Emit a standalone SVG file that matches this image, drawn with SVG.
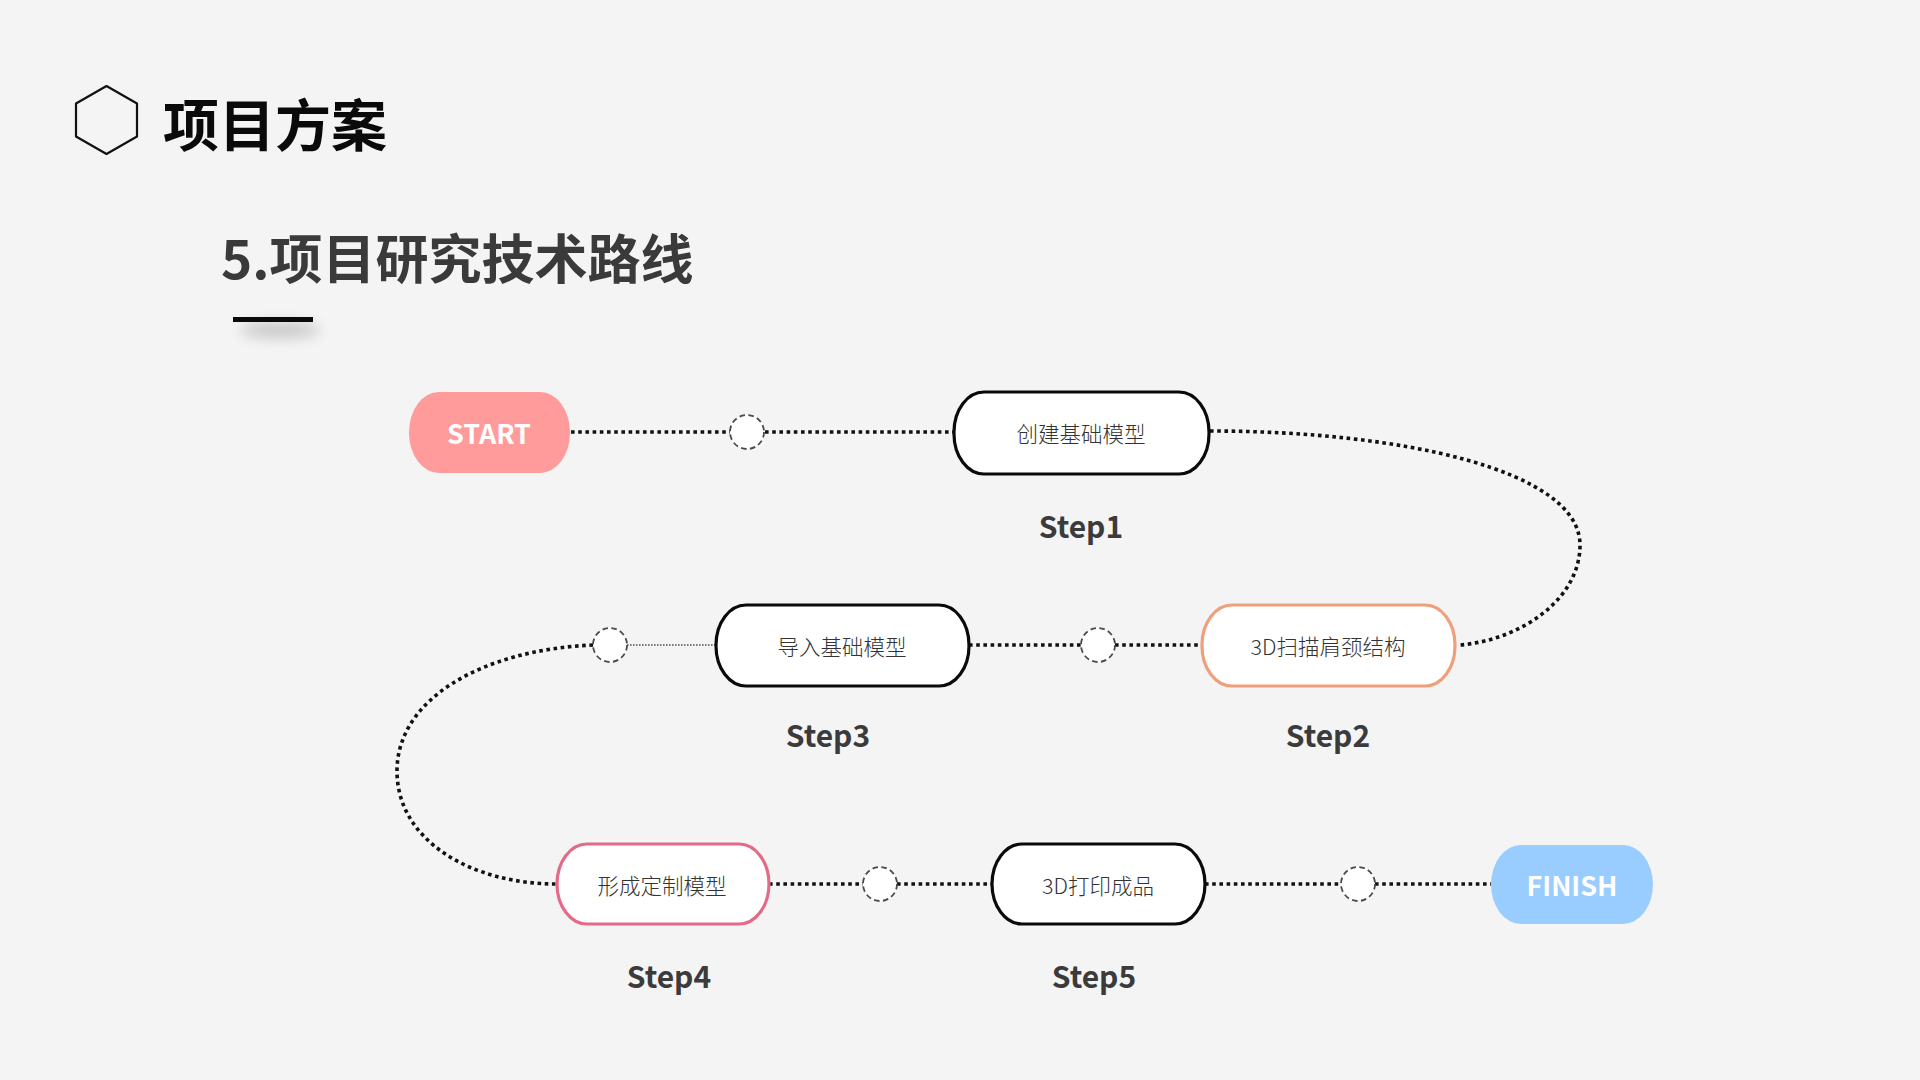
<svg xmlns="http://www.w3.org/2000/svg" width="1920" height="1080" viewBox="0 0 1920 1080">
<defs>
<style>
.cjk{font-family:"Noto Sans CJK SC","Noto Sans",sans-serif}
.node{fill:#ffffff;stroke-width:3.2}
.ntext{font-family:"Noto Sans CJK SC","Noto Sans",sans-serif;font-size:21.5px;font-weight:300;fill:#333333;text-anchor:middle;dominant-baseline:central}
.step{font-family:"Noto Sans CJK SC","Noto Sans",sans-serif;font-size:30px;font-weight:700;fill:#3b3b3b;text-anchor:middle;dominant-baseline:central}
.term{font-family:"Noto Sans CJK SC","Noto Sans",sans-serif;font-size:27px;font-weight:700;fill:#ffffff;text-anchor:middle;dominant-baseline:central}
.dot{fill:none;stroke:#111;stroke-width:3.6;stroke-dasharray:3.6 3.6}
.thin{fill:none;stroke:#555;stroke-width:1.4;stroke-dasharray:1.6 1.4}
.ring{fill:#ffffff;stroke:#4a4a4a;stroke-width:1.8;stroke-dasharray:5.5 3.5}
</style>
<filter id="blur" x="-50%" y="-200%" width="200%" height="500%">
<feGaussianBlur stdDeviation="7"/>
</filter>
</defs>
<rect width="1920" height="1080" fill="#f4f4f4"/>

<g id="header">
<polygon points="106.5,86 137,103.5 137,136.5 106.5,154 76,136.5 76,103.5" fill="none" stroke="#111" stroke-width="2.2" stroke-linejoin="round"/>
<text x="163" y="146" class="cjk" font-size="56" font-weight="700" fill="#0a0a0a">项目方案</text>
<text x="221" y="279" class="cjk" font-size="53" font-weight="700" fill="#3a3a3a">5.项目研究技术路线</text>
<ellipse cx="280" cy="330" rx="40" ry="8" fill="#000" opacity="0.18" filter="url(#blur)"/>
<rect x="233" y="317" width="80" height="5" fill="#0a0a0a"/>
</g>

<g id="connectors">
<line class="dot" x1="571" y1="432" x2="730" y2="432"/>
<line class="dot" x1="765" y1="432" x2="954" y2="432"/>
<path class="dot" d="M1210,431 C1400,431 1580,470 1580,545 C1580,600 1520,640 1460,645"/>
<line class="dot" x1="1115" y1="645" x2="1202" y2="645"/>
<line class="dot" x1="969" y1="645" x2="1081" y2="645"/>
<line class="thin" x1="627" y1="645" x2="716" y2="645"/>
<path class="dot" d="M593,645 C480,650 397,700 397,771 C397,840 470,884 557,884"/>
<line class="dot" x1="769" y1="884" x2="863" y2="884"/>
<line class="dot" x1="897" y1="884" x2="992" y2="884"/>
<line class="dot" x1="1205" y1="884" x2="1341" y2="884"/>
<line class="dot" x1="1375" y1="884" x2="1491" y2="884"/>
</g>

<g id="waypoints">
<circle class="ring" cx="747" cy="432" r="17"/>
<circle class="ring" cx="1098" cy="645" r="17"/>
<circle class="ring" cx="610" cy="645" r="17"/>
<circle class="ring" cx="880" cy="884" r="17"/>
<circle class="ring" cx="1358" cy="884" r="17"/>
</g>

<g id="start">
<rect x="409" y="392" width="161" height="81" rx="30" ry="40" fill="#ff9b9b"/>
<text x="489" y="432" class="term">START</text>
</g>

<g id="step1">
<rect class="node" x="954" y="392" width="255" height="82" rx="30" ry="40" stroke="#0a0a0a"/>
<text x="1081" y="432" class="ntext">创建基础模型</text>
<text x="1081" y="525" class="step">Step1</text>
</g>

<g id="step2">
<rect class="node" x="1202" y="605" width="253" height="81" rx="30" ry="40" stroke="#ef9f7b"/>
<text x="1328" y="645" class="ntext">3D扫描肩颈结构</text>
<text x="1328" y="734" class="step">Step2</text>
</g>

<g id="step3">
<rect class="node" x="716" y="605" width="253" height="81" rx="30" ry="40" stroke="#0a0a0a"/>
<text x="842" y="645" class="ntext">导入基础模型</text>
<text x="828" y="734" class="step">Step3</text>
</g>

<g id="step4">
<rect class="node" x="557" y="844" width="212" height="80" rx="30" ry="40" stroke="#e36b87"/>
<text x="662" y="884" class="ntext">形成定制模型</text>
<text x="669" y="975" class="step">Step4</text>
</g>

<g id="step5">
<rect class="node" x="992" y="844" width="213" height="80" rx="30" ry="40" stroke="#0a0a0a"/>
<text x="1098" y="884" class="ntext">3D打印成品</text>
<text x="1094" y="975" class="step">Step5</text>
</g>

<g id="finish">
<rect x="1491" y="845" width="162" height="79" rx="30" ry="40" fill="#99ccff"/>
<text x="1572" y="884" class="term">FINISH</text>
</g>
</svg>
